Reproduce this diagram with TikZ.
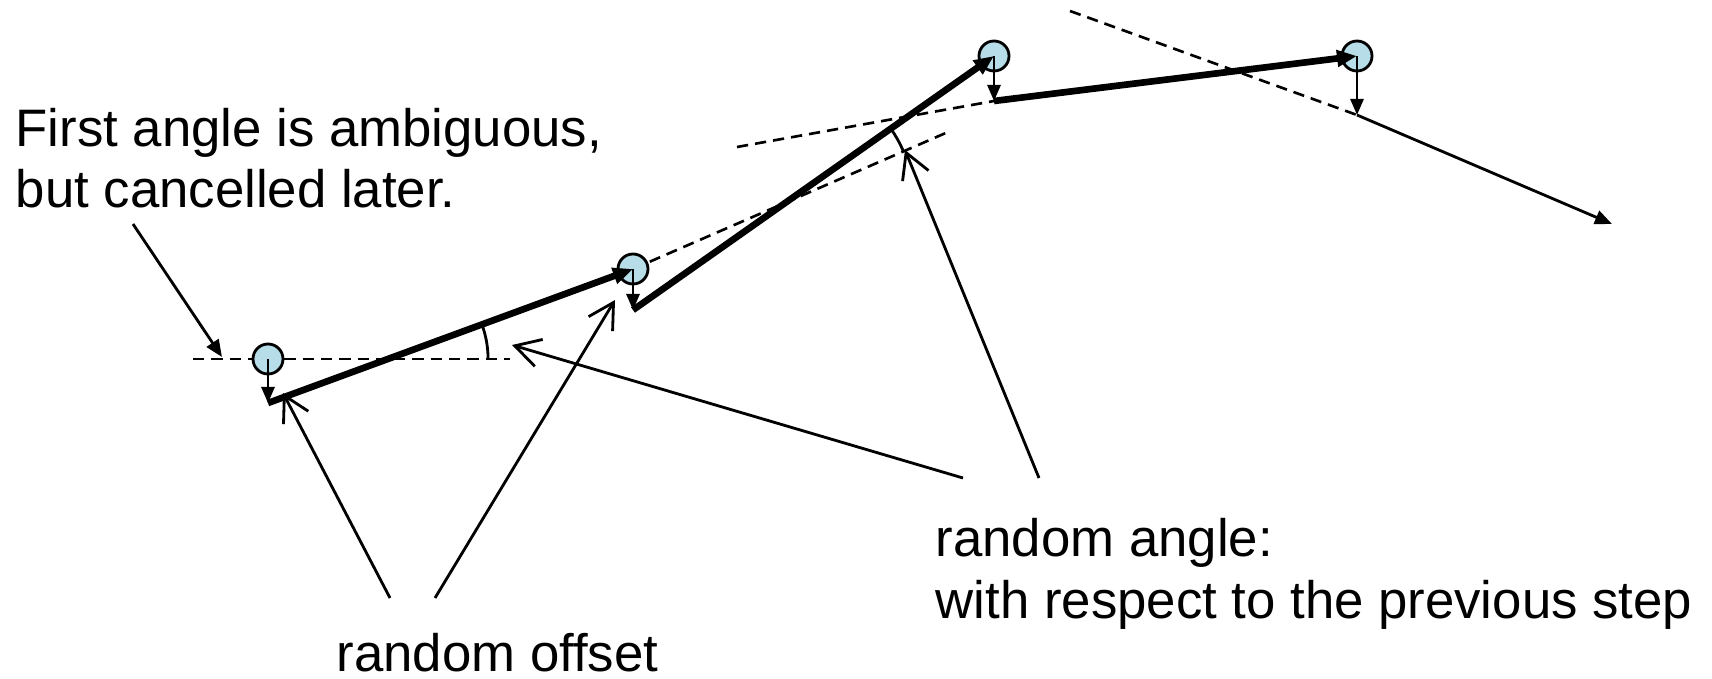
\documentclass[tikz,border=0pt]{standalone}
\usepackage{fontspec}
\setmainfont{Liberation Sans}
\usepackage{tikz}
\usepackage{xcolor}
\usetikzlibrary{arrows.meta, positioning, calc}
\definecolor{colPoint}{HTML}{B7DEE8}
\tikzset{
  % Sampled points (circles)
  pt/.style={
    draw, line width=0.8pt, circle,
    fill=colPoint, minimum size=3mm, inner sep=0pt,
  },
  % Arrows
  arrstep/.style={-{Triangle[length=2.0mm,width=1.6mm]}, line width=1.9pt},
  arroff/.style={-{Triangle[length=1.6mm,width=1.3mm]}, line width=0.8pt},
  arrthin/.style={-{Triangle[length=1.7mm,width=1.4mm]}, line width=0.8pt},
  callout/.style={-{Straight Barb[length=2.5mm,width=2.8mm]}, line width=0.8pt},
  % Guide lines and angle marks
  guide/.style={dash pattern=on 3.2pt off 2pt, line width=0.75pt},
  arcline/.style={line width=0.8pt},
  % Labels
  note/.style={font=\fontsize{15pt}{17.6pt}\selectfont, align=left, inner sep=0pt},
}

\begin{document}
\begin{tikzpicture}[x=0.01cm, y=-0.01cm]
\useasboundingbox (0,0) rectangle (1712,679);

%% ═══════════════════════════════════════════════════════════════════════════
%% POSITIONS – sampled points and ends of the offsets
%% ═══════════════════════════════════════════════════════════════════════════

\coordinate (p1) at (268,359);
\coordinate (p2) at (633,269);
\coordinate (p3) at (994,56);
\coordinate (p4) at (1357,56);

\coordinate (o1) at (268,403);
\coordinate (o2) at (633,310);
\coordinate (o3) at (994,101);
\coordinate (o4) at (1357,115);
\coordinate (o5) at (1612,224);

%% ═══════════════════════════════════════════════════════════════════════════
%% GUIDES – direction of the previous step
%% ═══════════════════════════════════════════════════════════════════════════

\coordinate (g0a) at (193,359);
\coordinate (g0b) at (510,359);
\coordinate (g1)  at (948,132);
\coordinate (g2)  at (737,147);
\coordinate (g3)  at (1070,11);

\draw[guide] (g0a) -- (g0b);
\draw[guide] (p2) -- (g1);
\draw[guide] (g2) -- (o3);
\draw[guide] (g3) -- (o4);

% angle marks
\coordinate (v1) at (388,359);
\coordinate (v2) at (791,199);
\draw[arcline] (v1) ++(0:1cm) arc[start angle=0, end angle=20.2, radius=1cm];
\draw[arcline] (v2) ++(23:1.22cm) arc[start angle=23, end angle=35, radius=1.22cm];

%% ═══════════════════════════════════════════════════════════════════════════
%% WALK – points, offsets, steps
%% ═══════════════════════════════════════════════════════════════════════════

\foreach \i in {1,...,4} \node[pt] (c\i) at (p\i) {};

\foreach \i in {1,...,4} \draw[arroff] (c\i.center) -- (o\i);

\draw[arrstep] (o1) -- (c2.center);
\draw[arrstep] (o2) -- (c3.center);
\draw[arrstep] (o3) -- (c4.center);
\draw[arrthin] (o4) -- (o5);

%% ═══════════════════════════════════════════════════════════════════════════
%% LABELS AND CALLOUTS
%% (base west of a two-line note sits on its last line)
%% ═══════════════════════════════════════════════════════════════════════════

\node[note, anchor=base west] (firsttxt) at (15,208)
  {First angle is ambiguous,\\but cancelled later.};
\node[note, anchor=base west] (offtxt) at (336,671) {random offset};
\node[note, anchor=base west] (angtxt) at (935,618)
  {random angle:\\with respect to the previous step};

\coordinate (firstfrom) at (133,224);
\coordinate (firstto)   at (222,357);
\coordinate (off1from)  at (390,598);
\coordinate (off1to)    at (283,393);
\coordinate (off2from)  at (435,598);
\coordinate (off2to)    at (615,300);
\coordinate (ang1from)  at (963,478);
\coordinate (ang1to)    at (512,345);
\coordinate (ang2from)  at (1039,478);
\coordinate (ang2to)    at (905,150);

\draw[arrthin] (firstfrom) -- (firstto);
\draw[callout] (off1from) -- (off1to);
\draw[callout] (off2from) -- (off2to);
\draw[callout] (ang1from) -- (ang1to);
\draw[callout] (ang2from) -- (ang2to);

\end{tikzpicture}
\end{document}
